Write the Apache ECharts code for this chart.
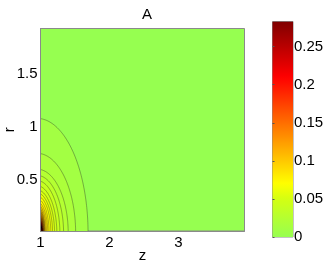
<!DOCTYPE html>
<html><head><meta charset="utf-8">
<script src="https://cdn.jsdelivr.net/npm/echarts@6/dist/echarts.min.js"></script>
<style>html,body{margin:0;padding:0;background:#fff}#c{width:327px;height:265px}</style>
</head><body><div id="c"></div>
<script>
// ---- data ----
const title = 'A';
const xName = 'z';
const yName = 'r';
const xTicks = [1, 2, 3];
const yTicks = [0.5, 1, 1.5];
const cbTicks = [0, 0.05, 0.1, 0.15, 0.2, 0.25];
const xRange = [1, 3.96];
const yRange = [0.02, 1.93];
const cRange = [0, 0.283];
// contour levels (value of A on each contour line)
const levels = [0.007,0.014,0.021,0.028,0.035,0.042,0.049,0.056,0.063,0.070,
  0.077,0.084,0.091,0.098,0.105,0.112,0.119,0.126,0.133,0.140,
  0.147,0.154,0.161,0.168,0.175,0.182,0.189,0.196,0.203,0.210,
  0.217,0.224,0.231,0.238,0.245,0.252,0.259,0.266,0.273,0.280];
// r where each contour meets the z = 1 edge
const rAtEdge = [1.08,0.75,0.60,0.54,0.49,0.44,0.40,0.37,0.34,0.31,
  0.28,0.255,0.235,0.218,0.203,0.190,0.178,0.167,0.157,0.148,
  0.140,0.133,0.126,0.120,0.114,0.109,0.104,0.099,0.095,0.091,
  0.087,0.083,0.080,0.077,0.074,0.071,0.068,0.065,0.062,0.059];
// z where each contour meets the bottom (r = 0) edge
const zAtAxis = [1.690,1.510,1.402,1.335,1.281,1.237,1.204,1.175,1.150,1.125,
  1.106,1.087,1.070,1.063,1.057,1.052,1.048,1.044,1.041,1.038,
  1.035,1.033,1.031,1.029,1.027,1.025,1.023,1.022,1.021,1.020,
  1.019,1.018,1.017,1.016,1.015,1.014,1.013,1.012,1.011,1.010];

// ---- styling ----
const FONT = 'Liberation Sans';
const FS = 15;
const TXT = '#000';
const FRAME = '#8a8a8a';
const LINE = 'rgba(40,40,40,0.75)';
const SHIFT = 0.05; // shape of the contour arcs
// colour map stops: [value, [r,g,b]]
const cmap = [
  [0.000, [150, 255, 80]],
  [0.050, [212, 255, 18]],
  [0.070, [255, 255, 0]],
  [0.140, [255, 128, 0]],
  [0.210, [255, 0, 0]],
  [0.283, [128, 0, 0]]
];
function colorOf(v){
  let i = 0;
  while (i < cmap.length - 2 && v > cmap[i + 1][0]) i++;
  const [v0, c0] = cmap[i], [v1, c1] = cmap[i + 1];
  const t = Math.max(0, Math.min(1, (v - v0) / (v1 - v0)));
  const c = c0.map((x, k) => Math.round(x + (c1[k] - x) * t));
  return 'rgb(' + c.join(',') + ')';
}
const bgColor = colorOf(0);

const contourData = levels.map((l, i) => [l, zAtAxis[i], rAtEdge[i], i + 1 < levels.length ? levels[i + 1] : cRange[1]]);

function renderContour(params, api){
  const lvl = api.value(0), zI = api.value(1), rI = api.value(2), nxt = api.value(3);
  const z0 = 1 - SHIFT;
  const A = zI - z0;
  const B = rI / Math.sqrt(1 - (SHIFT / A) * (SHIFT / A));
  const th0 = Math.acos(SHIFT / A);
  const arc = [];
  const N = 80;
  for (let i = 0; i <= N; i++){
    const th = th0 * (1 - i / N);
    arc.push(api.coord([z0 + A * Math.cos(th), B * Math.sin(th)]));
  }
  const poly = arc.concat([api.coord([zI, -0.3]), api.coord([0.5, -0.3]), api.coord([0.5, rI])]);
  return {
    type: 'group',
    children: [
      {type: 'polygon', shape: {points: poly}, style: {fill: colorOf((lvl + nxt) / 2), stroke: null}},
      {type: 'polyline', shape: {points: arc}, style: {stroke: LINE, lineWidth: 0.5, fill: null}}
    ]
  };
}

const cbStops = [];
for (let i = 0; i <= 60; i++){
  const v = cRange[0] + (cRange[1] - cRange[0]) * i / 60;
  cbStops.push({offset: i / 60, color: colorOf(v)});
}
function renderColorbar(params, api){
  const p1 = api.coord([0, cRange[1]]);
  const p2 = api.coord([1, cRange[0]]);
  return {
    type: 'rect',
    shape: {x: p1[0], y: p1[1], width: p2[0] - p1[0], height: p2[1] - p1[1]},
    style: {fill: new echarts.graphic.LinearGradient(0, 1, 0, 0, cbStops)}
  };
}

const chart = echarts.init(document.getElementById('c'), null, {renderer: 'canvas'});
chart.setOption({
  animation: false,
  backgroundColor: '#fff',
  title: {text: title, left: 142, top: 2, textAlign: 'center',
    textStyle: {fontFamily: FONT, fontSize: FS, fontWeight: 'normal', color: TXT}},
  grid: [
    {left: 40.5, top: 28.5, width: 204, height: 202.5, show: true, backgroundColor: bgColor,
      borderColor: FRAME, borderWidth: 1, containLabel: false, outerBoundsMode: 'none'},
    {left: 272.5, top: 21.5, width: 20.5, height: 215.5, show: true, backgroundColor: 'transparent',
      borderColor: FRAME, borderWidth: 1, containLabel: false, outerBoundsMode: 'none'}
  ],
  xAxis: [
    {gridIndex: 0, type: 'value', min: xRange[0], max: xRange[1], z: 10,
      name: xName, nameLocation: 'middle', nameGap: 17, nameMoveOverlap: false,
      nameTextStyle: {fontFamily: FONT, fontSize: FS, color: TXT},
      axisLine: {show: true, onZero: false, lineStyle: {color: FRAME, width: 1}},
      axisTick: {show: false},
      splitLine: {show: false},
      axisLabel: {customValues: xTicks, margin: 4, fontFamily: FONT, fontSize: FS, color: TXT,
        formatter: v => String(v)}},
    {gridIndex: 1, type: 'value', min: 0, max: 1, show: false}
  ],
  yAxis: [
    {gridIndex: 0, type: 'value', min: yRange[0], max: yRange[1], z: 10,
      name: yName, nameLocation: 'middle', nameGap: 23, nameRotate: 90, nameMoveOverlap: false,
      nameTextStyle: {fontFamily: FONT, fontSize: FS, color: TXT},
      axisLine: {show: true, onZero: false, lineStyle: {color: FRAME, width: 1}},
      axisTick: {show: false},
      splitLine: {show: false},
      axisLabel: {customValues: yTicks, margin: 3, fontFamily: FONT, fontSize: FS, color: TXT,
        formatter: v => String(v)}},
    {gridIndex: 1, type: 'value', min: cRange[0], max: cRange[1], position: 'right',
      axisLine: {show: false},
      axisTick: {show: false},
      splitLine: {show: false},
      axisLabel: {customValues: cbTicks, margin: 1, fontFamily: FONT, fontSize: FS, color: TXT,
        formatter: v => String(v)}},
    {gridIndex: 1, type: 'value', min: cRange[0], max: cRange[1], position: 'left', z: 10,
      axisLine: {show: false},
      axisTick: {show: true, inside: true, length: 2, customValues: cbTicks, lineStyle: {color: '#555'}},
      axisLabel: {show: false},
      splitLine: {show: false}}
  ],
  series: [
    {type: 'custom', xAxisIndex: 0, yAxisIndex: 0, clip: true, data: contourData, renderItem: renderContour},
    {type: 'custom', xAxisIndex: 1, yAxisIndex: 1, clip: true, data: [[0, 0]], renderItem: renderColorbar}
  ]
});
</script></body></html>
